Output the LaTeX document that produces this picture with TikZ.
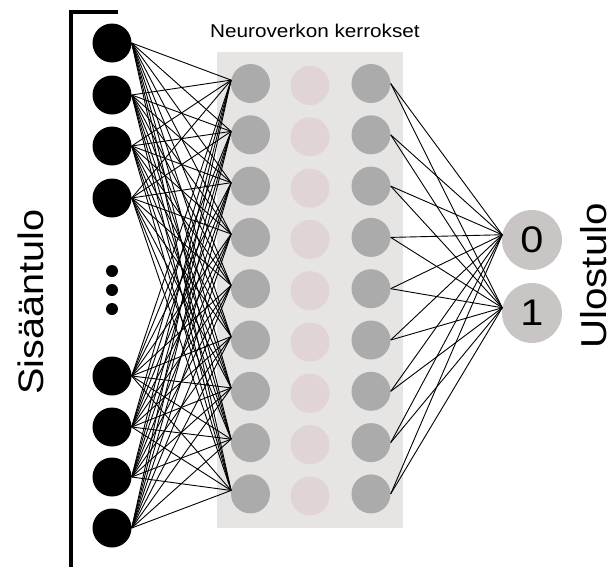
\documentclass[tikz,border=0pt]{standalone}
\usepackage{fontspec}
\setmainfont[FakeStretch=1.12]{Liberation Sans}
\definecolor{layerbg}{HTML}{E7E4E4}
\definecolor{hidgray}{HTML}{ABABAB}
\definecolor{hidpink}{HTML}{E0D4D4}
\definecolor{outgray}{HTML}{C8C5C4}
\tikzset{
  neuron/.style={circle, inner sep=0pt, minimum size=39pt},
  inneuron/.style={neuron, fill=black},
  hidneuron/.style={neuron, fill=hidgray},
  midneuron/.style={neuron, fill=hidpink},
  outneuron/.style={circle, inner sep=0pt, minimum size=60pt, fill=outgray,
    font=\fontsize{37}{37}\selectfont},
  dotmark/.style={circle, inner sep=0pt, minimum size=12pt, fill=black},
  link/.style={draw=black, line width=0.9pt},
  sidelabel/.style={rotate=90, anchor=base, inner sep=0pt},
}
\begin{document}
\begin{tikzpicture}[x=1pt, y=-1pt]
  \useasboundingbox (0,0) rectangle (614,566);

  % shaded panel behind the hidden layers
  \node (layers) [fill=layerbg, inner sep=0pt, minimum width=186pt,
    minimum height=476pt] at (310,290) {};
  \node (title) [anchor=base, inner sep=0pt, font=\fontsize{18.5}{20}\selectfont]
    at (315,37.7) {Neuroverkon kerrokset};

  % input bracket
  \draw[line width=4pt, line join=miter] (118,12) -- (70.5,12) -- (70.5,570);

  % input neurons
  \foreach \y [count=\i] in {43,95,146,198,376,427,477,528}
    \node[inneuron] (in\i) at (112,\y) {};
  \node[dotmark] (dotA) at (112,271) {};
  \node[dotmark] (dotB) at (112,290) {};
  \node[dotmark] (dotC) at (112,309) {};

  % hidden layers
  \foreach \r in {1,...,9} {
    \pgfmathsetmacro\yy{83.5+51.3*(\r-1)}
    \node[hidneuron] (ha\r) at (250.5,\yy) {};
    \node[midneuron] (hb\r) at (310,\yy+2) {};
    \node[hidneuron] (hc\r) at (371,\yy) {};
  }

  % output neurons
  \node[outneuron] (out0) at (532,240) {0};
  \node[outneuron] (out1) at (532,313) {1};

  % connections
  \foreach \i in {1,...,8}
    \foreach \r in {1,...,9}
      \draw[link] (in\i.east) -- (ha\r.170);
  \foreach \r in {1,...,9} {
    \draw[link] (hc\r.east) -- (out0.170);
    \draw[link] (hc\r.east) -- (out1.170);
  }

  % side labels
  \node[sidelabel, font=\fontsize{35.4}{36}\selectfont] (inlabel) at (43,302) {Sisääntulo};
  \node[sidelabel, font=\fontsize{36}{37}\selectfont] (outlabel) at (606,276) {Ulostulo};
\end{tikzpicture}
\end{document}
